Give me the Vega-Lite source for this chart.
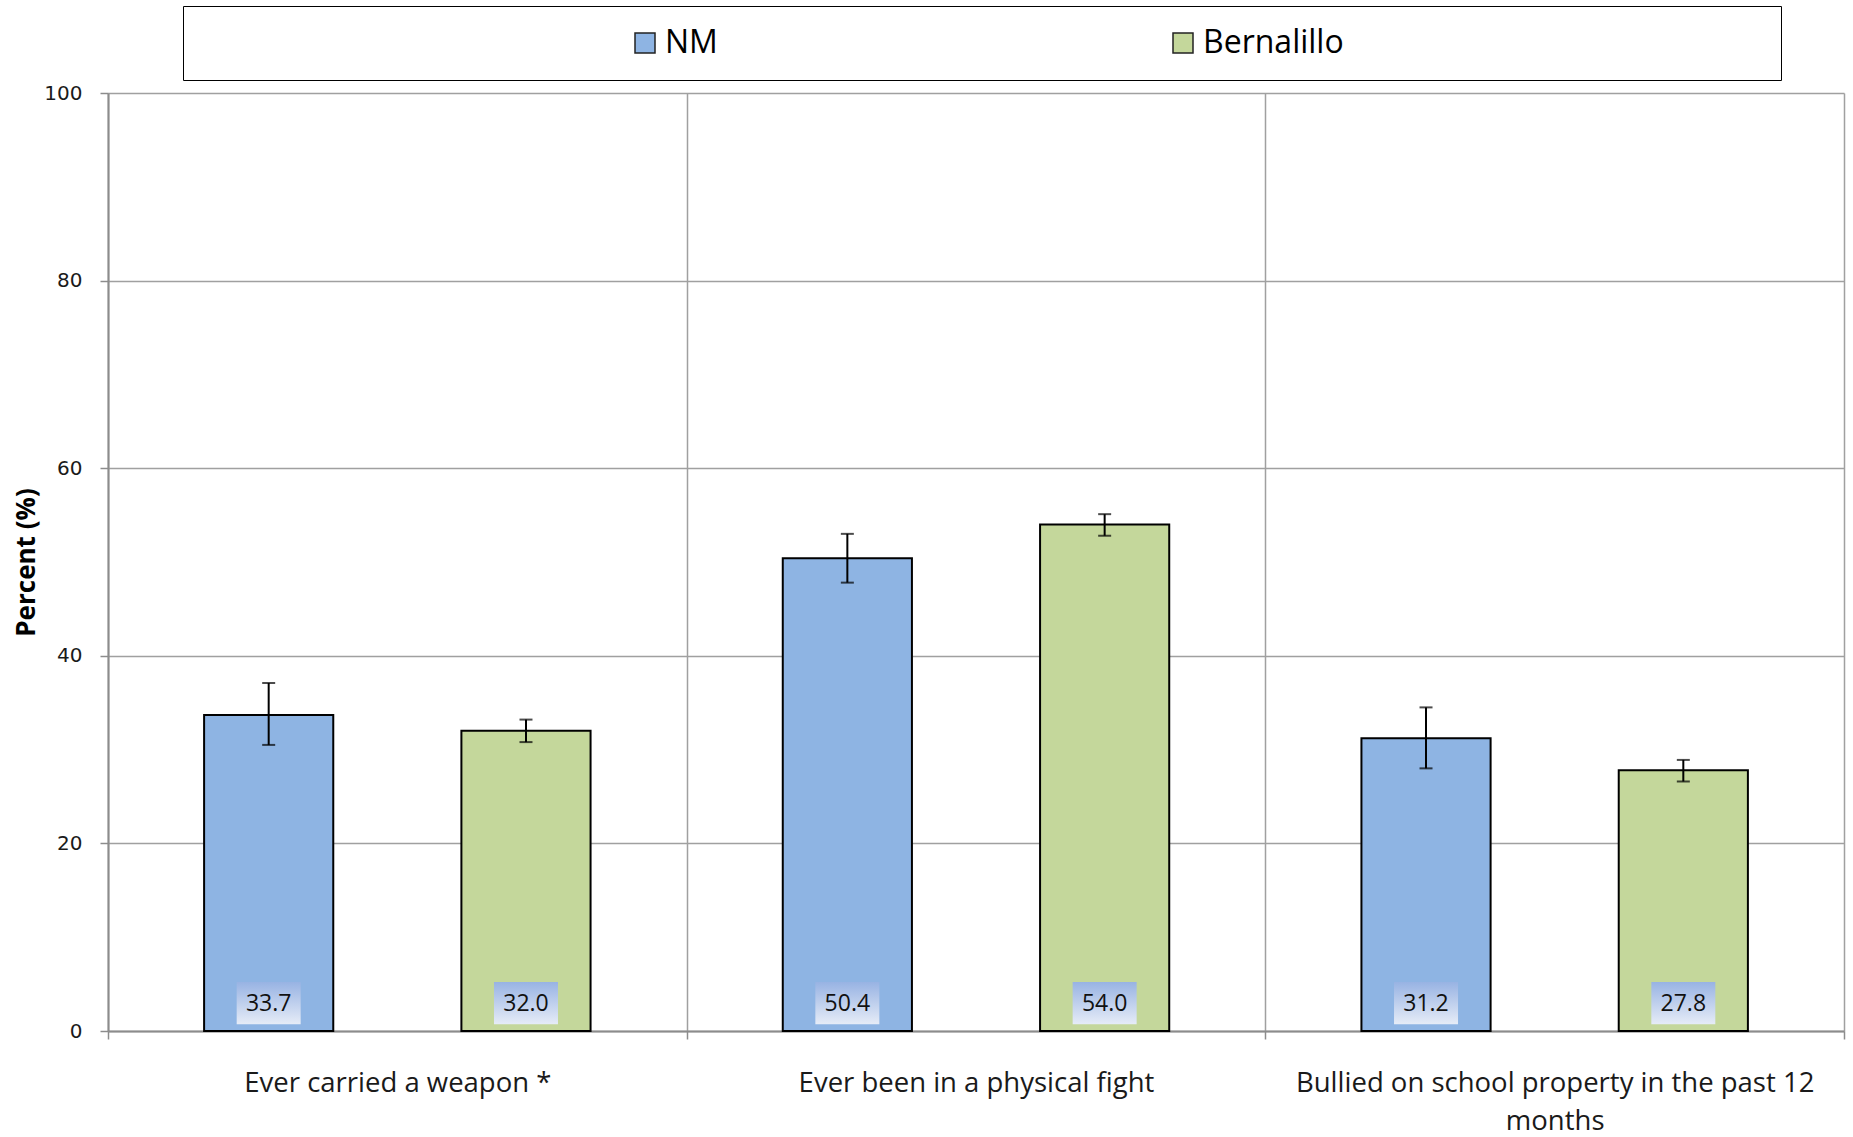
{
  "$schema": "https://vega.github.io/schema/vega-lite/v6.json",
  "autosize": "none",
  "padding": {"left": 108, "top": 93, "right": 9, "bottom": 105},
  "width": 1736,
  "height": 938,
  "background": "white",
  "config": {"view": {"stroke": null}},
  "data": {"values": [
    {"category": "Ever carried a weapon *", "series": "NM", "value": 33.7, "lo": 30.5, "hi": 37.1},
    {"category": "Ever carried a weapon *", "series": "Bernalillo", "value": 32.0, "lo": 30.8, "hi": 33.2},
    {"category": "Ever been in a physical fight", "series": "NM", "value": 50.4, "lo": 47.8, "hi": 53.0},
    {"category": "Ever been in a physical fight", "series": "Bernalillo", "value": 54.0, "lo": 52.8, "hi": 55.1},
    {"category": "Bullied on school property in the past 12 months", "series": "NM", "value": 31.2, "lo": 28.0, "hi": 34.5},
    {"category": "Bullied on school property in the past 12 months", "series": "Bernalillo", "value": 27.8, "lo": 26.6, "hi": 28.9}
  ]},
  "encoding": {
    "x": {
      "field": "category", "type": "nominal",
      "sort": ["Ever carried a weapon *", "Ever been in a physical fight", "Bullied on school property in the past 12 months"],
      "scale": {"paddingInner": 0, "paddingOuter": 0},
      "title": null,
      "axis": {
        "labelAngle": 0,
        "tickBand": "extent",
        "grid": true,
        "gridColor": "#A0A0A0",
        "gridWidth": 1.5,
        "domainColor": "#8C8C8C",
        "domainWidth": 2,
        "tickColor": "#8C8C8C",
        "tickWidth": 1.5,
        "tickSize": 8,
        "labelFont": "Open Sans",
        "labelFontSize": 27.5,
        "labelColor": "#1a1a1a",
        "labelPadding": 30,
        "labelLimit": 800,
        "labelLineHeight": 38,
        "labelExpr": "datum.label == 'Bullied on school property in the past 12 months' ? ['Bullied on school property in the past 12', 'months'] : datum.label"
      }
    },
    "xOffset": {"field": "series", "type": "nominal", "sort": ["NM", "Bernalillo"], "scale": {"paddingInner": 0.498, "paddingOuter": 0.3735}}
  },
  "layer": [
    {
      "mark": {"type": "bar", "stroke": "black", "strokeWidth": 2},
      "encoding": {
        "y": {
          "field": "value", "type": "quantitative",
          "scale": {"domain": [0, 100], "nice": false},
          "title": "Percent (%)",
          "axis": {
            "values": [0, 20, 40, 60, 80, 100],
            "grid": true,
            "gridColor": "#A0A0A0",
            "gridWidth": 1.5,
            "domainColor": "#8C8C8C",
            "domainWidth": 2,
            "tickColor": "#8C8C8C",
            "tickWidth": 1.5,
            "tickSize": 8,
            "labelFont": "DejaVu Sans",
            "labelFontSize": 20,
            "labelColor": "#1a1a1a",
            "labelPadding": 18,
            "titleFont": "Open Sans",
            "titleFontSize": 26,
            "titleFontWeight": "bold",
            "titleColor": "black",
            "titlePadding": 4
          }
        },
        "color": {
          "field": "series", "type": "nominal",
          "sort": ["NM", "Bernalillo"],
          "scale": {"domain": ["NM", "Bernalillo"], "range": ["#8EB4E3", "#C4D79B"]},
          "legend": {
            "orient": "none",
            "legendX": 75,
            "legendY": -87,
            "direction": "horizontal",
            "padding": 21,
            "strokeColor": "black",
            "fillColor": "white",
            "symbolType": "square",
            "symbolSize": 400,
            "symbolStrokeColor": "#222222",
            "symbolStrokeWidth": 1.5,
            "symbolOffset": 425,
            "labelOffset": 4,
            "columnPadding": 24,
            "labelFont": "Open Sans",
            "labelFontSize": 32,
            "labelColor": "black",
            "title": " ",
            "titleOrient": "right",
            "titleFontSize": 1,
            "titlePadding": 416
          }
        }
      }
    },
    {
      "mark": {"type": "bar", "width": 64, "color": {"gradient": "linear", "x1": 0, "y1": 0, "x2": 0, "y2": 1, "stops": [{"offset": 0, "color": "#98B3E3"}, {"offset": 1, "color": "#E6ECF7"}]}},
      "encoding": {
        "y": {"datum": 0.71, "type": "quantitative", "title": "Percent (%)"},
        "y2": {"datum": 5.22}
      }
    },
    {
      "mark": {"type": "text", "font": "Open Sans", "fontSize": 23, "color": "#111111", "baseline": "middle", "align": "center"},
      "encoding": {
        "y": {"datum": 2.9, "type": "quantitative", "title": "Percent (%)"},
        "text": {"field": "value", "type": "quantitative", "format": ".1f"}
      }
    },
    {
      "mark": {"type": "rule", "color": "black", "strokeWidth": 2},
      "encoding": {
        "y": {"field": "lo", "type": "quantitative", "title": "Percent (%)"},
        "y2": {"field": "hi"}
      }
    },
    {
      "mark": {"type": "tick", "color": "black", "thickness": 2, "size": 13},
      "encoding": {
        "y": {"field": "lo", "type": "quantitative", "title": "Percent (%)"}
      }
    },
    {
      "mark": {"type": "tick", "color": "black", "thickness": 2, "size": 13},
      "encoding": {
        "y": {"field": "hi", "type": "quantitative", "title": "Percent (%)"}
      }
    }
  ]
}
